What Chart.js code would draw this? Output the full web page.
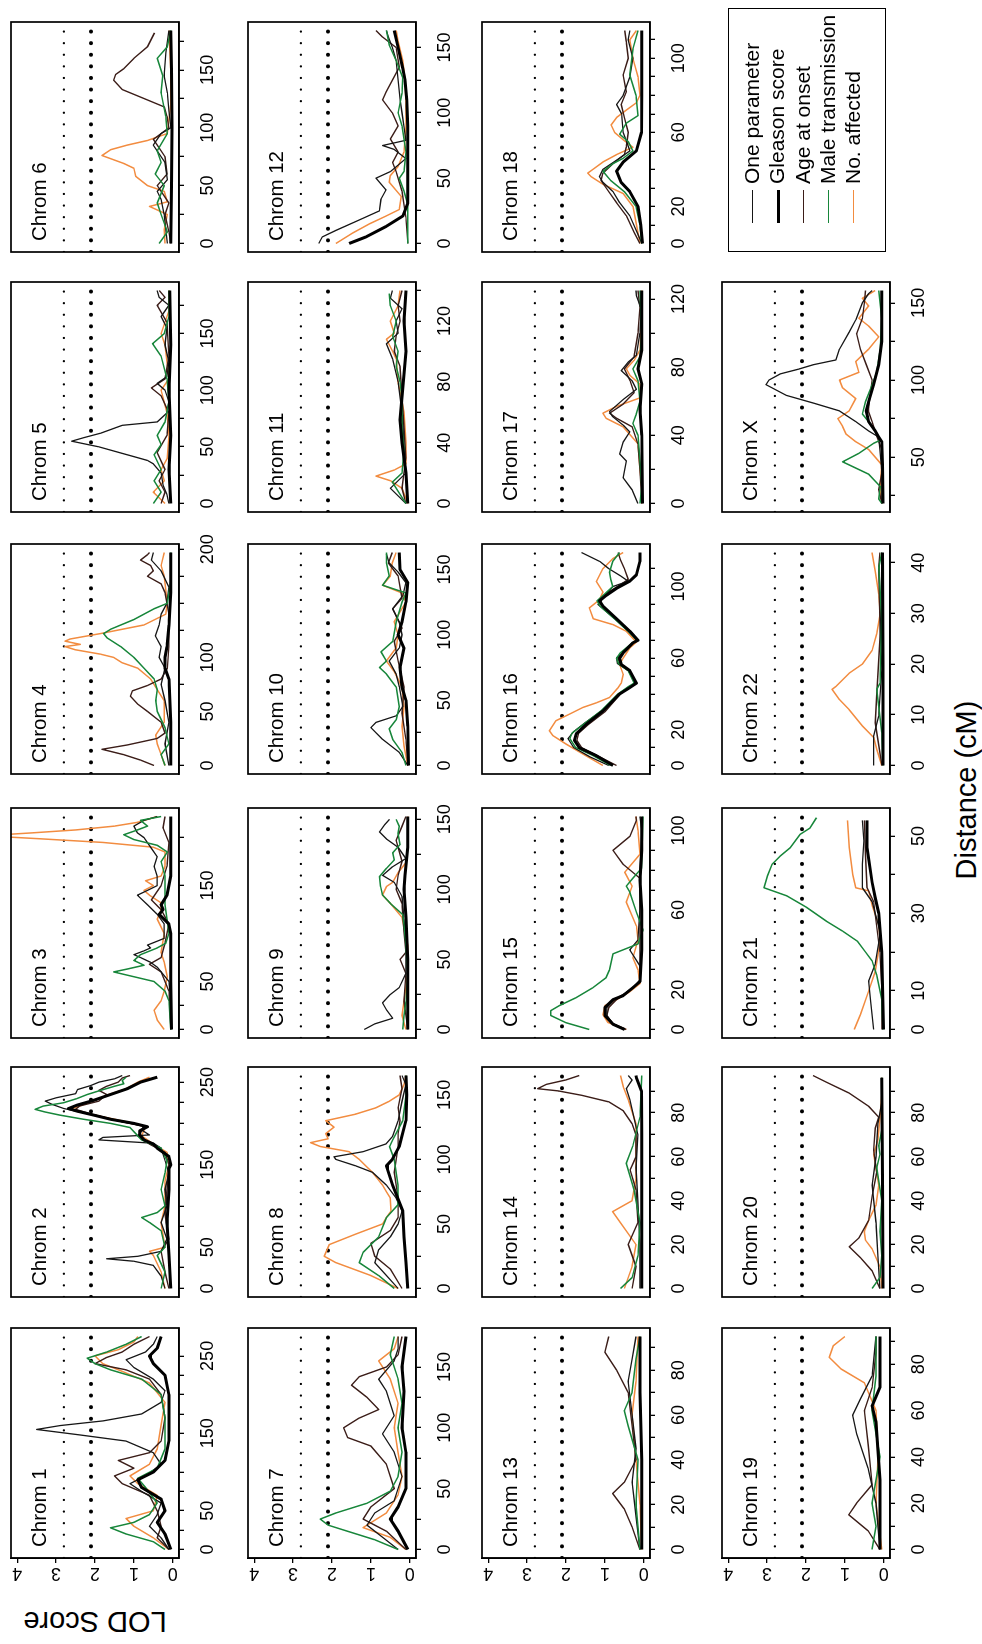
<!DOCTYPE html>
<html>
<head>
<meta charset="utf-8">
<script src="https://cdn.jsdelivr.net/npm/chart.js@4.4.1/dist/chart.umd.min.js"></script>
<style>
  html, body { margin: 0; padding: 0; background: #fff; }
  body { width: 982px; height: 1644px; overflow: hidden; position: relative;
         font-family: "Liberation Sans", Arial, Helvetica, sans-serif; color: #000; }
  /* the figure is laid out landscape, then turned a quarter turn */
  #fig { position: absolute; left: 0; top: 0; width: 1644px; height: 982px;
         transform-origin: 0 0; transform: translate(0, 1644px) rotate(-90deg); }
  #fig canvas { position: absolute; }
  .ttl { position: absolute; font-size: 20.5px; line-height: 20px; white-space: nowrap; }
  #legend { position: absolute; border: 1.5px solid #000; box-sizing: border-box; background: #fff; }
  .lg-row { position: absolute; left: 0; height: 24px; width: 280px; }
  .lg-line { position: absolute; left: 28px; width: 33px; top: 12px; }
  .lg-text { position: absolute; left: 67px; top: 0px; font-size: 21px; line-height: 24px; white-space: nowrap; }
  #xtitle { position: absolute; left: 654px; top: 948px; width: 400px; text-align: center;
            font-size: 29px; line-height: 36px; }
  #ytitle { position: absolute; left: -78px; top: 77px; width: 200px; text-align: center;
            font-size: 29px; line-height: 36px; transform: rotate(-90deg); }
</style>
</head>
<body>
<div id="fig">
  <div id="xtitle">Distance (cM)</div>
  <div id="ytitle">LOD Score</div>
</div>
<script>
Chart.defaults.font.family = '"Liberation Sans", Arial, Helvetica, sans-serif';
Chart.defaults.color = '#000';

// ---- data (cM, LOD) ----
const c1One = [[0,0.1],[15,0.3],[30,0.6],[45,0.4],[60,0.3],[75,0.8],[85,1.1],[95,0.7],[110,0.3],[125,0.5],[140,1.2],[148,2.4],[155,3.5],[160,2.9],[166,1.8],[175,0.8],[190,0.3],[205,0.2],[220,0.5],[235,1.0],[245,1.2],[255,0.7],[265,0.5],[275,0.4]];
const c1Gleason = [[0,0.05],[20,0.2],[35,0.4],[50,0.2],[65,0.3],[80,0.8],[90,0.9],[100,0.5],[115,0.2],[140,0.1],[170,0.1],[200,0.1],[225,0.2],[240,0.5],[250,0.6],[260,0.4],[275,0.3]];
const c1Age = [[0,0.1],[15,0.4],[30,0.3],[50,0.4],[70,0.6],[85,1.3],[95,1.5],[105,1.0],[115,1.4],[125,0.6],[140,0.3],[170,0.2],[200,0.3],[220,0.6],[232,1.2],[240,2.0],[248,1.7],[255,1.3],[265,1.0],[275,0.6]];
const c1Male = [[0,0.2],[10,0.5],[20,1.2],[28,1.6],[35,1.0],[45,0.6],[60,0.4],[80,0.7],[92,0.9],[105,0.4],[130,0.2],[170,0.2],[200,0.3],[220,0.8],[232,1.6],[240,2.0],[247,2.2],[255,1.7],[265,1.2],[275,0.8]];
const c1Affected = [[0,0.1],[15,0.5],[30,1.0],[40,1.2],[50,0.5],[70,0.4],[85,0.9],[95,1.1],[110,0.6],[130,0.4],[160,0.3],[190,0.2],[215,0.6],[230,1.3],[240,1.8],[250,2.0],[258,1.4],[268,1.0],[275,0.9]];

const c2One = [[0,0.2],[15,0.3],[28,0.5],[33,1.0],[36,1.7],[39,0.9],[45,0.3],[60,0.15],[80,0.3],[100,0.15],[120,0.2],[140,0.1],[155,0.2],[170,0.3],[176,0.5],[180,1.9],[183,1.8],[186,0.6],[192,0.8],[197,0.75],[202,1.3],[210,2.0],[218,2.8],[223,3.1],[227,3.28],[231,3.0],[236,2.5],[241,2.45],[246,2.1],[250,1.9],[254,1.5],[258,1.3]];
const c2Gleason = [[0,0.05],[40,0.1],[80,0.15],[120,0.1],[145,0.1],[150,0.05],[160,0.1],[170,0.4],[175,0.5],[180,0.74],[186,0.85],[191,0.85],[196,0.65],[200,1.0],[205,1.6],[210,2.03],[215,2.47],[218,2.68],[222,2.47],[228,2.03],[235,1.6],[242,1.17],[250,0.83],[256,0.4]];
const c2Age = [[0,0.1],[20,0.2],[45,0.3],[60,0.1],[90,0.2],[120,0.15],[150,0.1],[165,0.2],[175,0.6],[185,0.9],[196,0.7],[202,1.3],[210,2.0],[217,2.5],[221,2.4],[227,1.9],[235,1.7],[240,1.9],[245,1.7],[250,1.4],[255,1.3],[258,1.1]];
const c2Male = [[0,0.3],[20,0.2],[40,0.4],[50,0.2],[70,0.3],[80,0.6],[86,0.8],[92,0.4],[100,0.2],[120,0.3],[140,0.2],[155,0.15],[170,0.3],[180,0.8],[190,1.0],[195,1.1],[200,1.6],[205,2.29],[210,2.9],[214,3.3],[217,3.54],[221,3.33],[225,2.81],[230,2.47],[235,2.2],[240,1.86],[245,1.5],[248,1.26],[252,1.3],[256,1.2]];
const c2Affected = [[0,0.2],[20,0.3],[40,0.5],[45,0.6],[50,0.2],[80,0.3],[100,0.2],[130,0.2],[150,0.1],[165,0.15],[175,0.5],[185,0.8],[196,0.7],[202,1.2],[210,2.0],[214,2.4],[217,2.64],[221,2.4],[228,2.0],[235,1.65],[242,1.2],[250,0.9],[256,0.6]];

const c3One = [[0,0.05],[30,0.05],[50,0.1],[65,0.4],[70,0.57],[75,0.83],[78,1.0],[82,0.74],[85,0.57],[88,0.65],[95,0.22],[110,0.22],[120,0.4],[130,0.65],[140,0.91],[145,0.65],[150,0.4],[160,0.4],[170,0.48],[180,0.4],[190,0.57],[200,0.74],[205,0.91],[212,1.0],[218,0.74],[222,0.4]];
const c3Gleason = [[0,0.03],[50,0.05],[100,0.05],[110,0.1],[120,0.35],[125,0.25],[130,0.3],[140,0.15],[160,0.05],[200,0.05],[222,0.05]];
const c3Age = [[0,0.05],[40,0.1],[60,0.3],[68,0.6],[75,0.3],[90,0.2],[110,0.1],[125,0.3],[135,0.55],[150,0.3],[170,0.15],[195,0.1],[210,0.25],[222,0.2]];
const c3Male = [[0,0.05],[30,0.1],[40,0.2],[50,0.48],[55,1.0],[60,1.52],[63,1.17],[67,0.74],[72,1.0],[78,0.83],[85,0.4],[90,0.18],[100,0.1],[130,0.2],[160,0.2],[175,0.3],[185,0.14],[192,0.4],[198,1.0],[203,1.26],[208,0.91],[212,0.65],[218,0.83],[222,0.3]];
const c3Affected = [[0,0.22],[10,0.4],[20,0.48],[30,0.3],[40,0.22],[55,0.14],[70,0.22],[80,0.3],[100,0.22],[115,0.4],[125,0.3],[132,0.3],[140,0.6],[145,0.74],[150,0.5],[155,0.7],[160,0.3],[170,0.2],[185,0.2],[190,0.5],[195,1.8],[199,3.5],[201,4.4],[203,4.4],[205,3.6],[208,2.5],[212,1.5],[216,0.9],[222,0.4]];

const c4One = [[0,0.1],[20,0.2],[40,0.1],[60,0.2],[75,0.3],[90,0.2],[100,0.35],[110,0.3],[120,0.45],[130,0.35],[140,0.3],[150,0.15],[165,0.1],[180,0.3],[190,0.55],[197,0.5]];
const c4Gleason = [[0,0.05],[40,0.05],[80,0.1],[90,0.2],[100,0.2],[110,0.15],[130,0.1],[160,0.05],[197,0.05]];
const c4Age = [[0,0.48],[5,0.83],[10,1.26],[15,1.82],[19,1.17],[25,0.4],[30,0.2],[40,0.3],[50,0.65],[57,0.91],[64,1.09],[69,1.04],[74,0.65],[80,0.3],[90,0.14],[110,0.1],[140,0.1],[160,0.2],[168,0.3],[175,0.65],[180,0.5],[185,0.57],[190,0.83],[195,0.65],[197,0.6]];
const c4Male = [[0,0.2],[10,0.3],[20,0.1],[35,0.2],[50,0.4],[60,0.44],[70,0.4],[80,0.48],[90,0.74],[100,1.0],[110,1.34],[118,1.69],[122,1.78],[126,1.6],[135,1.0],[145,0.48],[150,0.14],[170,0.05],[197,0.05]];
const c4Affected = [[0,0.2],[10,0.3],[20,0.4],[28,0.44],[40,0.22],[60,0.22],[80,0.57],[90,0.9],[95,1.3],[100,1.52],[103,1.86],[107,2.5],[110,2.77],[112,2.38],[115,2.77],[117,2.64],[122,1.86],[130,0.74],[140,0.18],[150,0.14],[175,0.22],[185,0.3],[197,0.22]];

const c5One = [[0,0.1],[8,0.15],[16,0.25],[27,0.3],[35,0.5],[38,0.65],[43,1.17],[50,1.9],[55,2.6],[58,2.3],[62,1.86],[69,1.3],[72,0.4],[80,0.15],[90,0.1],[100,0.2],[106,0.4],[112,0.15],[125,0.1],[140,0.2],[155,0.15],[165,0.3],[175,0.1],[182,0.35],[188,0.4]];
const c5Gleason = [[0,0.05],[30,0.1],[60,0.05],[100,0.1],[140,0.05],[188,0.08]];
const c5Age = [[0,0.3],[10,0.2],[20,0.35],[30,0.2],[45,0.4],[60,0.15],[80,0.1],[95,0.3],[102,0.55],[110,0.2],[130,0.1],[160,0.15],[175,0.4],[182,0.2],[188,0.35]];
const c5Male = [[0,0.5],[10,0.3],[20,0.48],[30,0.3],[43,0.48],[52,0.3],[60,0.4],[72,0.2],[90,0.1],[110,0.15],[130,0.3],[141,0.52],[150,0.22],[165,0.1],[188,0.1]];
const c5Affected = [[0,0.2],[10,0.5],[20,0.22],[30,0.3],[40,0.14],[60,0.1],[80,0.15],[100,0.3],[110,0.1],[140,0.2],[150,0.3],[170,0.1],[188,0.1]];

const c6One = [[0,0.14],[25,0.22],[38,0.3],[45,0.4],[55,0.14],[70,0.2],[85,0.5],[95,0.3],[100,0.05],[115,0.1],[130,0.14],[145,0.22],[165,0.18],[184,0.1]];
const c6Gleason = [[0,0.05],[50,0.03],[100,0.02],[150,0.03],[184,0.05]];
const c6Age = [[0,0.05],[10,0.1],[25,0.2],[35,0.1],[50,0.4],[60,0.15],[75,0.2],[90,0.5],[100,0.1],[110,0.15],[118,0.22],[124,0.65],[133,1.3],[141,1.52],[146,1.47],[151,1.26],[160,1.0],[170,0.65],[182,0.47]];
const c6Male = [[0,0.35],[10,0.14],[25,0.3],[35,0.4],[50,0.22],[60,0.45],[70,0.3],[80,0.4],[95,0.14],[110,0.18],[130,0.3],[145,0.26],[160,0.4],[170,0.14],[184,0.05]];
const c6Affected = [[0,0.2],[12,0.22],[25,0.14],[32,0.6],[36,0.14],[45,0.22],[50,0.65],[58,0.95],[65,1.0],[69,1.25],[76,1.82],[81,1.6],[85,1.17],[89,0.65],[95,0.14],[120,0.05],[150,0.05],[184,0.1]];

const c7One = [[0,0.3],[10,0.7],[20,1.1],[30,0.9],[40,0.4],[60,0.2],[80,0.4],[95,0.7],[110,0.4],[130,0.6],[140,0.8],[155,0.4],[165,0.3],[175,0.3]];
const c7Gleason = [[0,0.05],[15,0.3],[25,0.5],[35,0.3],[50,0.1],[80,0.1],[100,0.2],[130,0.15],[150,0.2],[175,0.1]];
const c7Age = [[0,0.1],[15,0.6],[25,1.2],[35,1.0],[50,0.4],[70,0.6],[85,1.0],[92,1.6],[100,1.7],[108,1.3],[115,0.8],[125,1.1],[135,1.5],[142,1.3],[150,0.6],[160,0.3],[175,0.2]];
const c7Male = [[0,0.3],[8,0.9],[15,1.6],[20,2.1],[25,2.3],[30,1.9],[38,1.1],[48,0.5],[60,0.3],[80,0.2],[100,0.3],[120,0.2],[140,0.3],[160,0.5],[175,0.4]];
const c7Affected = [[0,0.1],[10,0.5],[18,1.2],[22,1.0],[30,0.6],[45,0.3],[60,0.2],[80,0.3],[100,0.4],[120,0.3],[140,0.5],[155,0.8],[165,0.4],[175,0.3]];

const c8One = [[0,0.3],[10,0.6],[20,0.9],[30,0.8],[40,0.5],[50,0.3],[60,0.2],[70,0.35],[80,0.6],[90,0.96],[95,1.39],[100,1.9],[102,1.95],[106,1.2],[112,0.61],[118,0.44],[130,0.3],[145,0.2],[158,0.1],[165,0.2]];
const c8Gleason = [[0,0.05],[20,0.1],[40,0.15],[60,0.18],[80,0.44],[95,0.6],[100,0.45],[110,0.27],[130,0.1],[150,0.08],[165,0.1]];
const c8Age = [[0,0.2],[15,0.5],[25,0.9],[35,1.0],[45,0.5],[55,0.3],[70,0.3],[90,0.4],[110,0.3],[120,0.3],[130,0.25],[140,0.3],[155,0.2],[165,0.25]];
const c8Male = [[0,0.4],[10,0.8],[20,1.3],[28,1.2],[40,0.8],[55,0.6],[65,0.3],[80,0.3],[100,0.4],[110,0.52],[115,0.44],[130,0.18],[150,0.1],[165,0.1]];
const c8Affected = [[0,0.3],[10,1.0],[20,1.9],[25,2.2],[34,2.07],[42,1.4],[50,0.7],[55,0.6],[60,0.48],[70,0.5],[75,0.6],[80,0.7],[85,0.83],[90,0.96],[95,1.13],[100,1.3],[106,1.56],[110,2.3],[113,2.55],[116,2.1],[120,2.16],[125,1.95],[130,2.16],[135,1.4],[140,0.87],[145,0.53],[150,0.27],[158,0.15],[165,0.1]];

const c9One = [[0,1.17],[4,0.9],[8,0.44],[14,0.6],[19,0.7],[25,0.5],[30,0.27],[40,0.1],[60,0.1],[80,0.15],[95,0.2],[105,0.4],[110,0.7],[116,0.45],[122,0.1],[130,0.3],[136,0.6],[141,0.78],[146,0.65],[150,0.52]];
const c9Gleason = [[0,0.05],[50,0.05],[80,0.1],[100,0.15],[110,0.12],[130,0.05],[152,0.05]];
const c9Age = [[0,0.05],[20,0.15],[40,0.1],[50,0.25],[55,0.1],[70,0.15],[90,0.2],[100,0.35],[110,0.3],[120,0.2],[135,0.35],[145,0.2],[152,0.1]];
const c9Male = [[0,0.18],[10,0.15],[20,0.1],[40,0.05],[60,0.1],[75,0.15],[82,0.18],[90,0.5],[96,0.7],[102,0.75],[109,0.78],[115,0.6],[121,0.4],[126,0.44],[132,0.25],[140,0.3],[145,0.27],[150,0.35]];
const c9Affected = [[0,0.1],[10,0.2],[20,0.15],[40,0.05],[60,0.05],[80,0.2],[90,0.5],[96,0.7],[102,0.6],[105,0.44],[112,0.3],[119,0.1],[130,0.05],[152,0.05]];

const c10One = [[0,0.05],[10,0.27],[20,0.7],[29,1.0],[33,0.87],[38,0.35],[45,0.18],[60,0.27],[70,0.35],[80,0.53],[90,0.27],[100,0.2],[110,0.27],[120,0.44],[130,0.18],[140,0.1],[148,0.3],[155,0.53],[162,0.6]];
const c10Gleason = [[0,0.03],[30,0.05],[50,0.1],[60,0.2],[75,0.25],[90,0.15],[100,0.3],[110,0.2],[125,0.1],[140,0.05],[150,0.25],[163,0.27]];
const c10Age = [[0,0.05],[20,0.1],[40,0.2],[60,0.15],[80,0.3],[95,0.4],[105,0.2],[120,0.44],[128,0.2],[145,0.3],[155,0.55],[163,0.45]];
const c10Male = [[0,0.1],[10,0.2],[20,0.44],[28,0.53],[35,0.35],[45,0.27],[60,0.35],[70,0.6],[75,0.78],[80,0.6],[87,0.74],[95,0.44],[110,0.35],[125,0.2],[132,0.1],[138,0.7],[145,0.53],[155,0.6],[163,0.6]];
const c10Affected = [[0,0.05],[15,0.15],[30,0.2],[45,0.15],[60,0.2],[72,0.4],[80,0.6],[90,0.35],[100,0.3],[110,0.4],[125,0.1],[132,0.2],[138,0.7],[145,0.5],[155,0.45],[163,0.35]];

const c11One = [[0,0.1],[5,0.3],[10,0.5],[15,0.3],[20,0.1],[40,0.15],[60,0.2],[80,0.3],[95,0.44],[105,0.6],[112,0.3],[120,0.35],[128,0.2],[135,0.5],[140,0.45]];
const c11Gleason = [[0,0.05],[20,0.1],[40,0.2],[55,0.25],[70,0.2],[85,0.15],[100,0.1],[120,0.15],[140,0.1]];
const c11Age = [[0,0.1],[10,0.2],[30,0.1],[50,0.15],[70,0.2],[90,0.25],[100,0.4],[110,0.35],[120,0.25],[130,0.3],[140,0.2]];
const c11Male = [[0,0.1],[8,0.3],[14,0.45],[20,0.2],[35,0.15],[50,0.2],[70,0.2],[80,0.25],[90,0.35],[100,0.3],[110,0.44],[120,0.35],[130,0.5],[138,0.53]];
const c11Affected = [[0,0.05],[10,0.2],[15,0.5],[18,0.87],[22,0.4],[26,0.1],[40,0.1],[60,0.15],[80,0.3],[95,0.35],[100,0.44],[108,0.6],[112,0.4],[120,0.5],[130,0.3],[140,0.25]];

const c12One = [[0,2.34],[5,2.25],[10,1.9],[18,1.3],[25,0.78],[34,0.74],[41,0.61],[50,0.87],[55,0.5],[60,0.3],[65,0.1],[72,0.4],[75,0.7],[79,0.1],[90,0.15],[100,0.2],[110,0.25],[125,0.3],[140,0.35],[150,0.45],[158,0.55],[163,0.6]];
const c12Gleason = [[0,1.56],[5,1.13],[13,0.61],[21,0.18],[31,0.05],[60,0.05],[90,0.05],[110,0.08],[125,0.12],[134,0.18],[150,0.3],[163,0.4]];
const c12Age = [[0,0.05],[20,0.1],[40,0.2],[55,0.35],[62,0.44],[70,0.3],[80,0.5],[90,0.3],[100,0.45],[110,0.7],[116,0.61],[125,0.45],[135,0.27],[150,0.35],[158,0.7],[163,0.87]];
const c12Male = [[0,0.05],[30,0.05],[40,0.15],[50,0.27],[55,0.15],[70,0.1],[90,0.2],[100,0.3],[115,0.2],[127,0.18],[140,0.35],[152,0.53],[163,0.6]];
const c12Affected = [[0,1.9],[8,1.47],[15,1.04],[21,0.61],[26,0.27],[36,0.22],[47,0.53],[52,0.5],[59,0.3],[70,0.15],[90,0.1],[108,0.1],[125,0.12],[140,0.18],[155,0.3],[163,0.35]];

const c13One = [[0,0.1],[15,0.2],[30,0.3],[45,0.2],[60,0.3],[75,0.4],[85,0.3],[95,0.2]];
const c13Gleason = [[0,0.05],[40,0.05],[70,0.1],[95,0.1]];
const c13Age = [[0,0.1],[10,0.3],[18,0.5],[25,0.8],[30,0.5],[40,0.2],[55,0.3],[70,0.4],[80,0.7],[88,1.0],[95,0.9]];
const c13Male = [[0,0.1],[20,0.2],[40,0.15],[55,0.4],[62,0.5],[70,0.3],[85,0.2],[95,0.1]];
const c13Affected = [[0,0.05],[20,0.1],[40,0.2],[60,0.3],[75,0.2],[95,0.15]];

const c14One = [[0,0.1],[20,0.1],[40,0.15],[55,0.2],[70,0.15],[80,0.28],[86,0.36],[91,0.45],[95,0.3],[97,0.4]];
const c14Gleason = [[0,0.05],[40,0.05],[70,0.05],[90,0.06],[96,0.19],[97,0.2]];
const c14Age = [[0,0.3],[10,0.2],[20,0.4],[30,0.15],[45,0.2],[54,0.35],[60,0.2],[70,0.2],[75,0.3],[81,0.53],[85,0.9],[88,1.6],[90,2.2],[91,2.73],[93,2.5],[95,2.0],[97,1.66]];
const c14Male = [[0,0.6],[5,0.3],[15,0.15],[30,0.1],[45,0.25],[57,0.45],[65,0.28],[78,0.1],[97,0.05]];
const c14Affected = [[0,0.5],[10,0.3],[20,0.2],[30,0.6],[35,0.8],[40,0.3],[50,0.2],[60,0.2],[75,0.2],[86,0.4],[92,0.53],[97,0.6]];

const c15One = [[0,0.5],[3,0.8],[7,0.95],[11,0.95],[15,0.75],[18,0.5],[21,0.28],[25,0.1],[32,0.1],[40,0.36],[45,0.15],[60,0.1],[80,0.1],[100,0.05],[107,0.1]];
const c15Gleason = [[0,0.49],[2.6,0.79],[7,1.0],[11,1.0],[15,0.79],[17,0.53],[21,0.28],[24,0.1],[40,0.05],[60,0.05],[75,0.1],[90,0.05],[107,0.05]];
const c15Age = [[0,0.45],[3,0.8],[7,0.95],[11,0.9],[15,0.7],[19,0.4],[24,0.1],[40,0.1],[60,0.1],[76,0.1],[83,0.53],[90,0.79],[97,0.36],[105,0.19],[107,0.2]];
const c15Male = [[0,1.4],[3.4,2.0],[7,2.39],[9.5,2.39],[12,2.17],[16,1.74],[21,1.31],[26,0.97],[30,0.88],[38,0.79],[43,0.15],[50,0.02],[59,0.19],[69,0.36],[72,0.45],[76,0.28],[81,0.06],[107,0.02]];
const c15Affected = [[0,0.45],[3.5,0.92],[7.5,1.05],[12,1.0],[15,0.7],[19,0.36],[23,0.1],[30,0.15],[36,0.28],[45,0.15],[52,0.19],[64,0.45],[72,0.3],[79,0.49],[88,0.1],[100,0.15],[107,0.2]];

const c16One = [[0,0.9],[5,1.4],[10,1.8],[15,1.95],[19,1.8],[24,1.5],[31,1.05],[40,0.65],[44,0.38],[46,0.22],[53,0.4],[57,0.68],[60,0.7],[64,0.5],[69,0.25],[70,0.17],[75,0.4],[82,0.75],[90,1.18],[95,1.0],[100,0.79],[103,0.4],[106,0.6],[110,0.9],[114,1.13],[119,1.6]];
const c16Gleason = [[0,0.79],[5.5,1.22],[10,1.66],[14,1.78],[17.6,1.74],[23,1.48],[30.5,1.05],[40,0.62],[43.5,0.36],[46,0.19],[53,0.36],[56.5,0.58],[60,0.62],[63,0.53],[68.5,0.28],[70,0.15],[75,0.36],[82,0.7],[89,1.05],[92,1.14],[95,0.97],[99,0.7],[103,0.36],[106.5,0.19],[114,0.1],[119,0.1]];
const c16Age = [[0,0.7],[5,1.15],[10,1.6],[14,1.72],[18,1.68],[23,1.42],[30,1.0],[40,0.6],[44,0.35],[46,0.2],[53,0.38],[57,0.62],[60,0.66],[64,0.5],[69,0.25],[70,0.15],[75,0.35],[82,0.72],[90,1.1],[93,1.1],[97,0.9],[101,0.6],[104,0.4],[110,0.5],[115,0.6],[119,0.66]];
const c16Male = [[0,0.85],[5.5,1.3],[10,1.75],[15,1.9],[18,1.85],[23,1.55],[30.5,1.1],[40,0.66],[44,0.4],[46,0.25],[53,0.4],[57,0.65],[60,0.7],[63,0.6],[68.5,0.3],[70,0.18],[75,0.4],[82,0.75],[89,1.12],[92,1.2],[96,1.0],[100,0.8],[104,0.85],[108,0.88],[114,0.8],[119,0.62]];
const c16Affected = [[0,1.05],[6.5,1.57],[12,2.0],[16.7,2.34],[19.4,2.43],[25,2.26],[28.7,1.91],[32.4,1.57],[35,1.22],[38,0.88],[43.5,0.66],[46,0.58],[51,0.53],[56.5,0.62],[60,0.53],[65.7,0.36],[69,0.19],[75,0.45],[78.7,0.79],[82,1.3],[88,1.4],[92.6,1.14],[97,1.05],[102.8,1.22],[110,1.05],[115.7,0.79],[119,0.53]];

const c17One = [[0,0.15],[8,0.3],[15,0.53],[25,0.45],[29,0.62],[36,0.53],[42,0.36],[46,0.53],[51,0.8],[54,0.88],[61,0.53],[67,0.19],[72,0.3],[78,0.58],[83,0.4],[87,0.19],[100,0.1],[114,0.06],[122,0.19],[125,0.2]];
const c17Gleason = [[0,0.03],[40,0.05],[55,0.1],[70,0.05],[79,0.15],[90,0.05],[125,0.05]];
const c17Age = [[0,0.05],[20,0.1],[35,0.15],[45,0.3],[50,0.7],[53,0.88],[58,0.55],[65,0.25],[72,0.35],[79,0.5],[86,0.25],[100,0.15],[115,0.1],[125,0.15]];
const c17Male = [[0,0.1],[10,0.05],[25,0.1],[40,0.15],[47,0.28],[52,0.2],[60,0.1],[72,0.15],[79,0.28],[86,0.1],[100,0.05],[125,0.1]];
const c17Affected = [[0,0.05],[10,0.05],[20,0.1],[35,0.15],[45,0.53],[50,0.97],[53,1.05],[57,0.7],[62,0.1],[70,0.1],[75,0.35],[79,0.45],[84,0.25],[90,0.1],[110,0.05],[125,0.05]];

const c18One = [[0,0.05],[5,0.15],[15,0.36],[22,0.62],[28,0.79],[33,1.05],[36,1.14],[40,1.05],[45,0.7],[50,0.36],[55,0.44],[60,0.53],[70,0.57],[75,0.7],[80,0.53],[90,0.36],[100,0.28],[110,0.4],[115,0.36]];
const c18Gleason = [[0,0.03],[10,0.08],[20,0.15],[28,0.36],[33,0.58],[39,0.7],[44,0.53],[50,0.19],[60,0.06],[80,0.05],[100,0.05],[115,0.05]];
const c18Age = [[0,0.1],[6,0.25],[15,0.45],[22,0.7],[28,0.9],[34,1.1],[38,1.05],[43,0.8],[48,0.5],[52,0.45],[60,0.4],[68,0.5],[75,0.58],[82,0.45],[91,0.53],[100,0.4],[109,0.45],[115,0.49]];
const c18Male = [[0,0.05],[10,0.1],[20,0.2],[28,0.5],[34,0.85],[39,1.05],[43,0.8],[46,0.53],[50,0.28],[55,0.4],[59,0.62],[65,0.45],[69,0.15],[80,0.2],[91,0.36],[105,0.28],[115,0.15]];
const c18Affected = [[0,0.1],[10,0.19],[20,0.28],[27,0.53],[32,1.05],[36,1.35],[38,1.44],[40,1.31],[44,1.05],[48,0.7],[52,0.28],[56,0.53],[60,0.75],[64,0.84],[68,0.7],[72,0.45],[76,0.19],[80,0.1],[90,0.15],[100,0.28],[110,0.36],[115,0.19]];

const c19One = [[0,0.1],[20,0.2],[35,0.4],[50,0.7],[58,0.8],[65,0.6],[75,0.3],[92,0.2]];
const c19Gleason = [[0,0.1],[30,0.1],[55,0.2],[62,0.3],[70,0.1],[92,0.1]];
const c19Age = [[0,0.1],[8,0.4],[15,0.9],[20,0.7],[28,0.3],[45,0.4],[60,0.5],[70,0.3],[85,0.2],[92,0.2]];
const c19Male = [[0,0.3],[10,0.2],[20,0.3],[40,0.1],[60,0.3],[75,0.2],[92,0.2]];
const c19Affected = [[0,0.05],[20,0.2],[40,0.15],[60,0.2],[72,0.5],[78,1.1],[83,1.4],[88,1.3],[92,1.0]];

const c20One = [[0,0.1],[15,0.15],[30,0.2],[47,0.3],[60,0.2],[75,0.15],[85,0.05],[96,0.05]];
const c20Gleason = [[0,0.02],[50,0.03],[96,0.05]];
const c20Age = [[0,0.1],[8,0.3],[14,0.6],[19,0.89],[23,0.64],[31,0.39],[42,0.3],[53,0.18],[63,0.26],[73,0.22],[78,0.13],[83,0.39],[89,0.89],[94,1.48],[97,1.82]];
const c20Male = [[0,0.3],[5,0.1],[15,0.05],[26,0.1],[40,0.05],[55,0.18],[61,0.1],[65,0.13],[72,0.05],[96,0.05]];
const c20Affected = [[0,0.05],[10,0.1],[18,0.3],[22,0.47],[26,0.5],[31,0.39],[38,0.2],[47,0.13],[55,0.2],[61,0.26],[68,0.15],[78,0.1],[88,0.05],[96,0.05]];

const c21One = [[0,0.26],[7.3,0.34],[12.5,0.39],[16.8,0.22],[25,0.09],[33,0.3],[36.6,0.55],[42.7,0.55],[48.7,0.51],[54,0.55]];
const c21Gleason = [[0,0.01],[20,0.05],[30,0.13],[34,0.22],[38,0.3],[47,0.43],[54,0.43]];
const c21Age = [[0,0.05],[10,0.05],[20,0.1],[33,0.26],[36.6,0.43],[45,0.47],[54,0.5]];
const c21Male = [[0,0.02],[7.8,0.05],[14,0.18],[17.7,0.3],[20,0.47],[22.8,0.68],[25.4,1.06],[28,1.48],[31.5,1.98],[34.5,2.49],[36.6,3.08],[39.7,2.99],[42.7,2.87],[44.8,2.66],[47,2.4],[50.4,2.15],[52,1.9],[54.7,1.73]];
const c21Affected = [[0,0.76],[3.9,0.6],[9.9,0.39],[15,0.22],[22.8,0.09],[27,0.13],[32,0.3],[35.8,0.39],[36.6,0.72],[40,0.8],[47,0.89],[54,0.93]];

const c22One = [[0,0.26],[5.8,0.26],[9.7,0.13],[19,0.05],[26,0.09],[41,0.05]];
const c22Gleason = [[0,0.02],[20,0.02],[42,0.03]];
const c22Age = [[0,0.05],[4,0.13],[8.4,0.22],[14,0.18],[26,0.09],[39,0.13],[42,0.1]];
const c22Male = [[0,0.02],[6.5,0.05],[15,0.18],[16.2,0.1],[29,0.05],[39,0.13],[42,0.05]];
const c22Affected = [[0,0.05],[3.2,0.18],[5.5,0.26],[7.8,0.55],[11,0.89],[13,1.14],[15,1.33],[15.6,1.23],[18.2,0.89],[20,0.55],[22.7,0.3],[26,0.18],[30,0.09],[33.8,0.13],[38.3,0.22],[42,0.3]];

const cXOne = [[20,0.05],[40,0.05],[55,0.1],[63,0.13],[67,0.39],[73,0.72],[80,1.14],[85,1.8],[90,2.5],[97,3.03],[100,2.95],[104,2.66],[107,2.2],[110,1.8],[113,1.23],[120,1.14],[131,0.89],[139,0.72],[150,0.55],[156,0.39],[158,0.3]];
const cXGleason = [[20,0.02],[45,0.03],[60,0.05],[63,0.13],[67,0.22],[73,0.39],[80,0.45],[86,0.39],[97,0.26],[110,0.13],[125,0.05],[158,0.05]];
const cXAge = [[20,0.05],[29,0.13],[40,0.05],[55,0.05],[65,0.2],[73,0.3],[80,0.4],[90,0.35],[100,0.3],[110,0.45],[120,0.6],[130,0.7],[140,0.55],[150,0.5],[158,0.47]];
const cXMale = [[20,0.05],[23,0.13],[31,0.09],[39,0.39],[47,1.06],[52.5,0.64],[59,0.26],[61,0.09],[67,0.22],[73,0.39],[78,0.55],[86,0.47],[97,0.3],[105,0.18],[120,0.09],[140,0.05],[158,0.13]];
const cXAffected = [[20,0.05],[30,0.1],[45,0.05],[55,0.39],[60,0.72],[65,0.97],[70,1.06],[75,1.18],[80,0.89],[88,0.72],[95,1.06],[100,1.14],[105,0.64],[112,0.72],[120,0.39],[128,0.13],[135,0.39],[140,0.64],[148,0.39],[153,0.55],[158,0.22]];

const chromNames = ['Chrom 1','Chrom 2','Chrom 3','Chrom 4','Chrom 5','Chrom 6','Chrom 7','Chrom 8','Chrom 9','Chrom 10','Chrom 11','Chrom 12',
  'Chrom 13','Chrom 14','Chrom 15','Chrom 16','Chrom 17','Chrom 18','Chrom 19','Chrom 20','Chrom 21','Chrom 22','Chrom X'];
const chromStart = [0,0,0,0,0,0,0,0,0,0,0,0,0,0,0,0,0,0,0,0,0,0,20];
const chromEnd = [275,258,222,197,188,184,175,165,152,163,140,163,95,97,107,119,125,115,92,97,55,42,158];
// tick marks along each distance axis (labelled ones listed separately)
const tickValues = [
  [0,25,50,75,100,125,150,175,200,225,250],[0,25,50,75,100,125,150,175,200,225,250],[0,25,50,75,100,125,150,175,200],
  [0,25,50,75,100,125,150,175,200],[0,25,50,75,100,125,150,175],[0,25,50,75,100,125,150,175],
  [0,25,50,75,100,125,150],[0,25,50,75,100,125,150],[0,25,50,75,100,125,150],[0,25,50,75,100,125,150],
  [0,20,40,60,80,100,120,140],[0,25,50,75,100,125,150],
  [0,10,20,30,40,50,60,70,80,90],[0,10,20,30,40,50,60,70,80,90],[0,10,20,30,40,50,60,70,80,90,100],
  [0,10,20,30,40,50,60,70,80,90,100,110],[0,20,40,60,80,100,120],[0,10,20,30,40,50,60,70,80,90,100,110],
  [0,10,20,30,40,50,60,70,80,90],[0,10,20,30,40,50,60,70,80,90],[0,10,20,30,40,50],[0,10,20,30,40],[25,50,75,100,125,150]];
const tickLabels = [
  [0,50,150,250],[0,50,150,250],[0,50,150],[0,50,100,200],[0,50,100,150],[0,50,100,150],
  [0,50,100,150],[0,50,100,150],[0,50,100,150],[0,50,100,150],[0,40,80,120],[0,50,100,150],
  [0,20,40,60,80],[0,20,40,60,80],[0,20,60,100],[0,20,60,100],[0,40,80,120],[0,20,60,100],
  [0,20,40,60,80],[0,20,40,60,80],[0,10,30,50],[0,10,20,30,40],[50,100,150]];
const lodTicks = [0, 1, 2, 3, 4];
const suggestiveLod = 2.1;   // heavy dotted line
const significantLod = 2.8;  // fine dotted line
const seriesNames = ['One parameter', 'Gleason score', 'Age at onset', 'Male transmission', 'No. affected'];

const chromSeries = [
  [c1One,c1Gleason,c1Age,c1Male,c1Affected],[c2One,c2Gleason,c2Age,c2Male,c2Affected],[c3One,c3Gleason,c3Age,c3Male,c3Affected],
  [c4One,c4Gleason,c4Age,c4Male,c4Affected],[c5One,c5Gleason,c5Age,c5Male,c5Affected],[c6One,c6Gleason,c6Age,c6Male,c6Affected],
  [c7One,c7Gleason,c7Age,c7Male,c7Affected],[c8One,c8Gleason,c8Age,c8Male,c8Affected],[c9One,c9Gleason,c9Age,c9Male,c9Affected],
  [c10One,c10Gleason,c10Age,c10Male,c10Affected],[c11One,c11Gleason,c11Age,c11Male,c11Affected],[c12One,c12Gleason,c12Age,c12Male,c12Affected],
  [c13One,c13Gleason,c13Age,c13Male,c13Affected],[c14One,c14Gleason,c14Age,c14Male,c14Affected],[c15One,c15Gleason,c15Age,c15Male,c15Affected],
  [c16One,c16Gleason,c16Age,c16Male,c16Affected],[c17One,c17Gleason,c17Age,c17Male,c17Affected],[c18One,c18Gleason,c18Age,c18Male,c18Affected],
  [c19One,c19Gleason,c19Age,c19Male,c19Affected],[c20One,c20Gleason,c20Age,c20Male,c20Affected],[c21One,c21Gleason,c21Age,c21Male,c21Affected],
  [c22One,c22Gleason,c22Age,c22Male,c22Affected],[cXOne,cXGleason,cXAge,cXMale,cXAffected]];

// ---- look ----
const seriesStyle = [
  { color: '#161616', width: 1.3, order: 2 },
  { color: '#000000', width: 3.0, order: 0 },
  { color: '#3b1d18', width: 1.4, order: 3 },
  { color: '#17863a', width: 1.5, order: 1 },
  { color: '#f28c40', width: 1.5, order: 4 },
];
const colLeft = [86, 347, 606, 870, 1132, 1392];
const rowTop = [11, 248, 482, 722];
const BOX_W = 230, BOX_H = 168, AXIS_H = 44, LOD_W = 40, PAD = 3, PAD_R = 18;

const fig = document.getElementById('fig');

const framePlugin = {
  id: 'frame',
  afterDraw(chart) {
    const { ctx, chartArea: a } = chart;
    ctx.save();
    ctx.strokeStyle = '#000';
    ctx.lineWidth = 1.7;
    ctx.strokeRect(a.left, a.top, a.right - a.left, a.bottom - a.top);
    ctx.restore();
  }
};

function makePanel(i) {
  const r = Math.floor(i / 6), c = i % 6;
  const first = c === 0;
  const padL = first ? LOD_W : 0;
  const w = BOX_W + padL + PAD + PAD_R, h = BOX_H + AXIS_H + PAD;

  const cv = document.createElement('canvas');
  cv.width = w; cv.height = h;
  cv.style.width = w + 'px'; cv.style.height = h + 'px';
  cv.style.left = (colLeft[c] - padL - PAD) + 'px';
  cv.style.top = (rowTop[r] - PAD) + 'px';
  fig.appendChild(cv);

  const ttl = document.createElement('div');
  ttl.className = 'ttl';
  ttl.textContent = chromNames[i];
  ttl.style.left = (colLeft[c] + 11) + 'px';
  ttl.style.top = (rowTop[r] + 18) + 'px';
  fig.appendChild(ttl);

  const span = chromEnd[i] - chromStart[i];
  const xmin = chromStart[i] - 0.04 * span, xmax = chromEnd[i] + 0.04 * span;

  const datasets = chromSeries[i].map((pts, k) => ({
    label: seriesNames[k],
    data: pts,
    borderColor: seriesStyle[k].color,
    borderWidth: seriesStyle[k].width,
    order: seriesStyle[k].order,
    pointRadius: 0,
    tension: 0,
    borderJoinStyle: 'round',
    fill: false,
  }));
  datasets.push({
    data: [[xmin, suggestiveLod], [xmax, suggestiveLod]],
    borderColor: '#000', borderWidth: 4, borderDash: [0.1, 11.5], borderCapStyle: 'round',
    pointRadius: 0, order: 10,
  });
  datasets.push({
    data: [[xmin, significantLod], [xmax, significantLod]],
    borderColor: '#000', borderWidth: 2.2, borderDash: [0.1, 11.5], borderCapStyle: 'round',
    pointRadius: 0, order: 10,
  });

  new Chart(cv, {
    type: 'line',
    data: { datasets },
    plugins: [framePlugin],
    options: {
      responsive: false,
      animation: false,
      events: [],
      layout: { padding: { left: PAD, right: PAD_R, top: PAD, bottom: 0 } },
      plugins: { legend: { display: false }, tooltip: { enabled: false } },
      scales: {
        x: {
          type: 'linear', min: xmin, max: xmax,
          afterBuildTicks: (s) => { s.ticks = tickValues[i].map((v) => ({ value: v })); },
          afterFit: (s) => { s.height = AXIS_H; s.paddingLeft = 0; s.paddingRight = 0; },
          grid: { drawOnChartArea: false, drawTicks: true, tickLength: 5, color: '#000', lineWidth: 1.3 },
          border: { display: true, color: '#000', width: 1.5 },
          ticks: {
            autoSkip: false, maxRotation: 0, minRotation: 0, padding: 13, color: '#000',
            font: { size: 18 },
            callback: (v) => (tickLabels[i].includes(v) ? String(v) : ''),
          },
        },
        y: {
          type: 'linear', min: -0.16, max: 4.16, display: first,
          afterBuildTicks: (s) => { s.ticks = lodTicks.map((v) => ({ value: v })); },
          afterFit: (s) => { s.width = padL; s.paddingTop = 0; s.paddingBottom = 0; },
          grid: { drawOnChartArea: false, drawTicks: true, tickLength: 5, color: '#000', lineWidth: 1.3 },
          border: { display: true, color: '#000', width: 1.5 },
          ticks: { minRotation: 90, maxRotation: 90, crossAlign: 'center', padding: 5, color: '#000', font: { size: 18 } },
        },
      },
    },
  });
}

for (let i = 0; i < chromNames.length; i++) makePanel(i);

// legend box in the last slot
const legend = document.createElement('div');
legend.id = 'legend';
legend.style.left = '1392px'; legend.style.top = '728px';
legend.style.width = '244px'; legend.style.height = '158px';
seriesNames.forEach((name, k) => {
  const row = document.createElement('div');
  row.className = 'lg-row';
  row.style.top = (11 + k * 25.3) + 'px';
  const ln = document.createElement('div');
  ln.className = 'lg-line';
  ln.style.borderTop = seriesStyle[k].width + 'px solid ' + seriesStyle[k].color;
  const tx = document.createElement('div');
  tx.className = 'lg-text';
  tx.textContent = name;
  row.appendChild(ln); row.appendChild(tx);
  legend.appendChild(row);
});
fig.appendChild(legend);
</script>
</body>
</html>
